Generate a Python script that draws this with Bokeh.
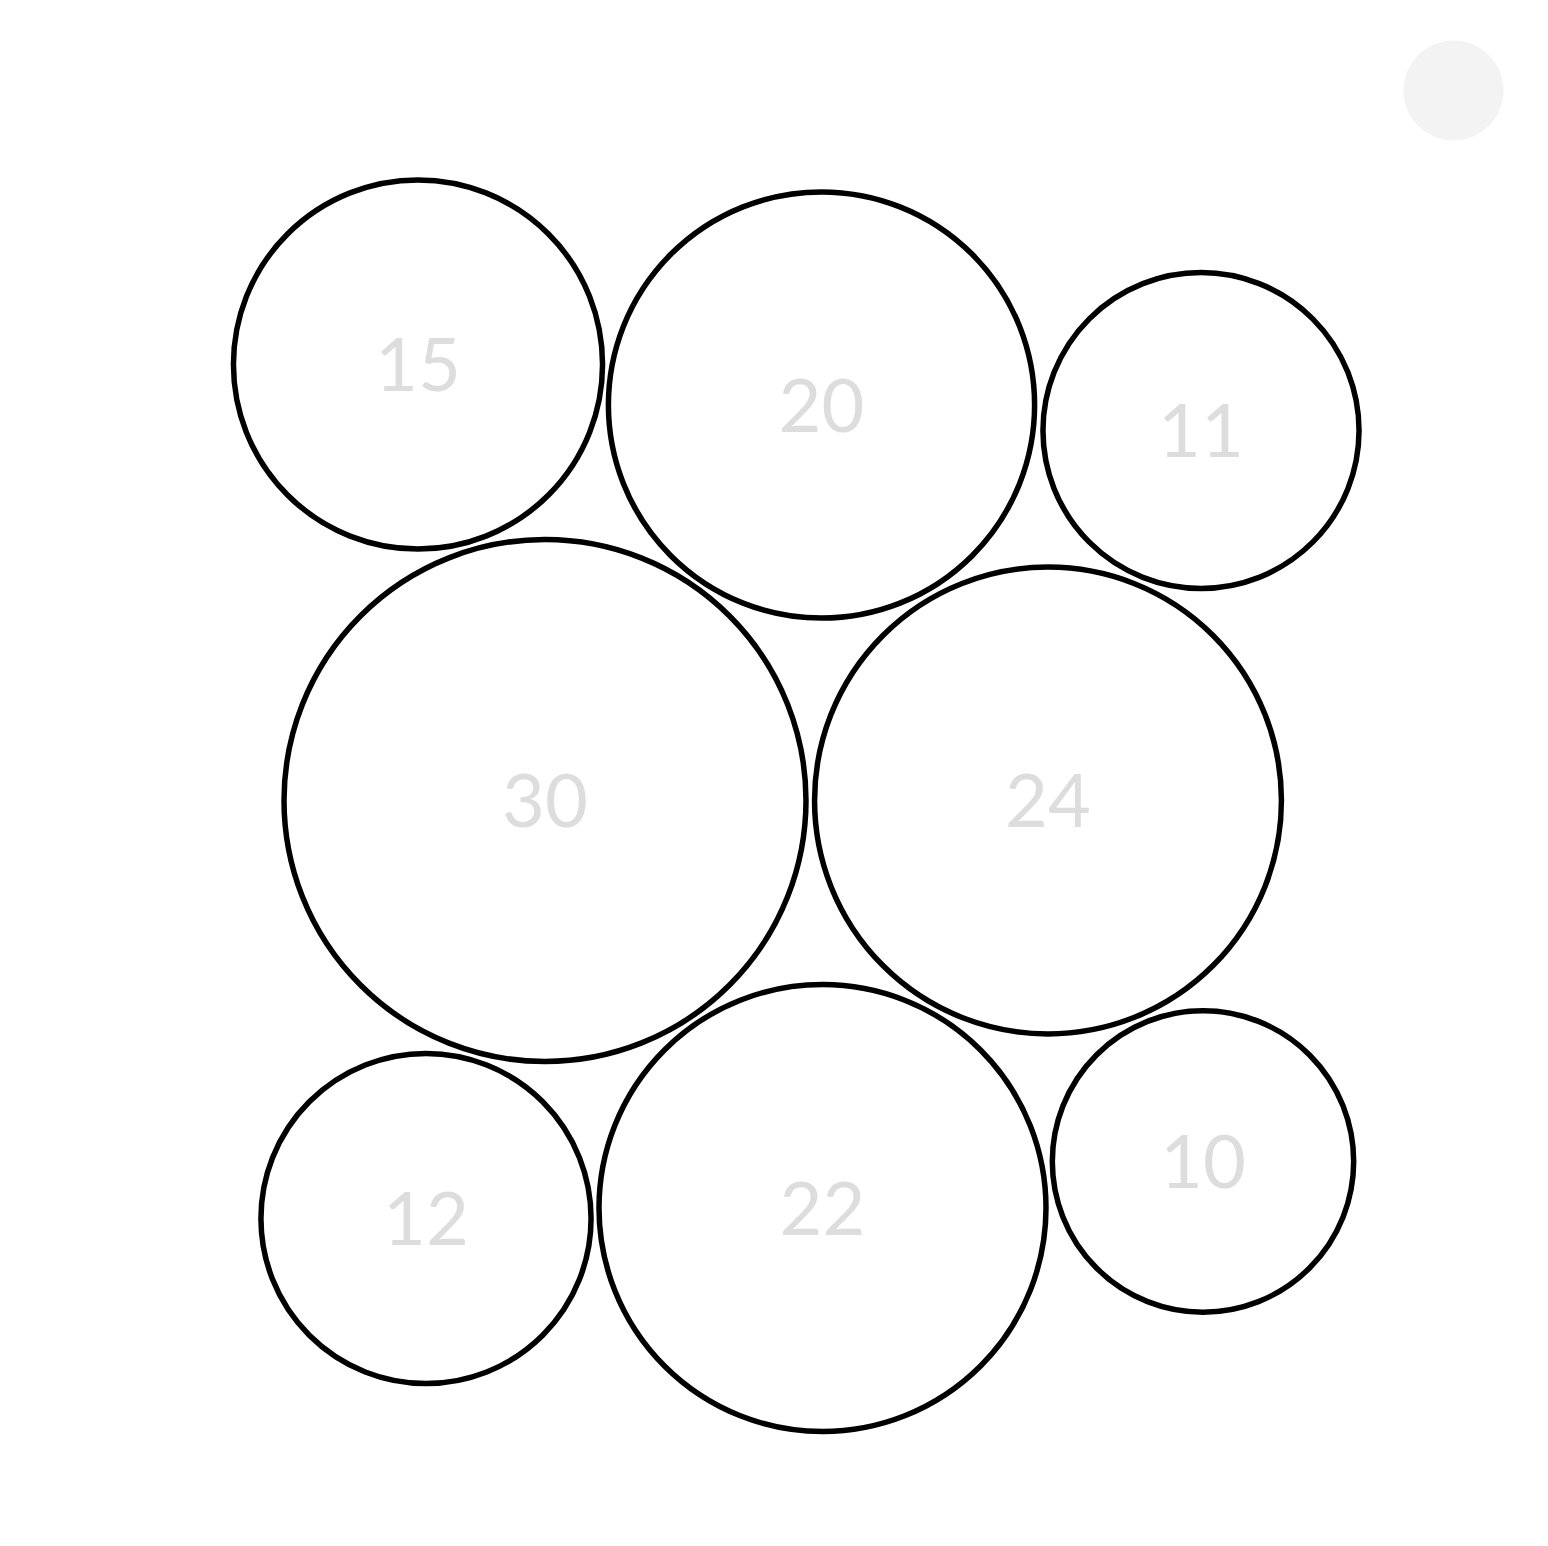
import math
from bokeh.plotting import figure
from bokeh.models import ColumnDataSource, Range1d
from bokeh.core.properties import value
from bokeh.embed import file_html
from bokeh.resources import INLINE

# Data
labels = ["15", "20", "11", "30", "24", "12", "22", "10"]
values = [15, 20, 11, 30, 24, 12, 22, 10]

# Packed-bubble layout centres (page pixel space)
cx = [417.5, 821.0, 1200.5, 544.5, 1047.5, 425.5, 822.0, 1202.5]
cy = [364.0, 404.5, 430.0, 800.0, 800.0, 1218.0, 1207.5, 1161.0]

K = 47.65
radii = [K * math.sqrt(v) for v in values]

src = ColumnDataSource(dict(x=cx, y=cy, r=radii, label=labels))

W, H = 1532, 1530
p = figure(width=W, height=H, output_backend="svg", toolbar_location=None,
           x_range=Range1d(0, W), y_range=Range1d(H, 0),
           min_border=0)
p.axis.visible = False
p.grid.visible = False
p.outline_line_color = None
p.background_fill_color = "white"
p.border_fill_color = "white"

p.circle(x="x", y="y", radius="r", source=src, fill_color="white",
         line_color="black", line_width=5.5)
p.text(x="x", y="y", text="label", source=src, text_align="center",
       text_baseline="middle", text_color="#dddddd",
       text_font=value("Lato"), text_font_size="74px")

# decorative grey dot at top right
p.circle(x=[1453], y=[90], radius=50, fill_color="#f3f3f3", line_color=None)

open("out.html", "w").write(file_html(p, INLINE))
